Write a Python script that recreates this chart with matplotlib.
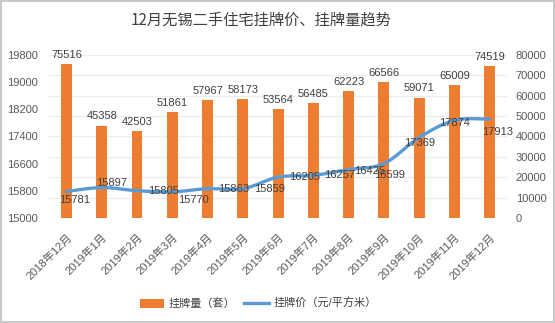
import matplotlib
matplotlib.use("Agg")
import matplotlib.pyplot as plt
from matplotlib.path import Path
from matplotlib.patches import PathPatch, Rectangle
from matplotlib.lines import Line2D
from matplotlib.patches import Patch

plt.rcParams['font.family'] = ['Liberation Sans', 'Noto Sans CJK SC']

months = ['2018年12月', '2019年1月', '2019年2月', '2019年3月', '2019年4月', '2019年5月',
          '2019年6月', '2019年7月', '2019年8月', '2019年9月', '2019年10月', '2019年11月',
          '2019年12月']
listings = [75516, 45358, 42503, 51861, 57967, 58173, 53564, 56485, 62223, 66566,
            59071, 65009, 74519]
prices = [15781, 15897, 15805, 15770, 15863, 15859, 16205, 16257, 16425, 16599,
          17369, 17874, 17913]

# label offsets for the price labels (points), as placed in the original
price_lbl_dx = [6, 7, 19, 15, 19, 19, 19, 19, 15, 4, 0, 0, 6]
price_lbl_dy = [-6, 3, 0, -6, 0, 0, 0, 0, -1, -8, -4, -2, -9]

orange = '#ED7D31'
blue = '#5B9BD5'
txt = '#404040'

fig = plt.figure(figsize=(5.55, 3.23), dpi=100)
fig.patches.append(Rectangle((0.001, 0.002), 0.997, 0.995, transform=fig.transFigure,
                             fill=False, edgecolor='#bfbfbf', linewidth=1.2))

ax = fig.add_axes([0.088, 0.325, 0.826, 0.505])
x = list(range(len(months)))
ax.bar(x, listings, width=0.31, color=orange, zorder=2)
ax.set_ylim(0, 80000)
ax.set_yticks(range(0, 80001, 10000))
ax.set_xlim(-0.5, len(months) - 0.5)
ax.grid(axis='y', color='#ececec', linewidth=0.8)
ax.set_axisbelow(True)
for xi, v in zip(x, listings):
    ax.annotate(str(v), (xi, v), xytext=(0, 3), textcoords='offset points',
                ha='center', va='bottom', fontsize=8, color=txt)

ax2 = ax.twinx()
ax2.set_ylim(15000, 19800)
ax2.set_yticks(range(15000, 19801, 800))
# bars scale on the right, price scale on the left
ax.yaxis.tick_right()
ax2.yaxis.tick_left()

# smoothed line, like Excel's smoothed series
verts = [(x[0], prices[0])]
codes = [Path.MOVETO]
n = len(prices)
for i in range(n - 1):
    p0 = (x[max(i - 1, 0)], prices[max(i - 1, 0)])
    p1 = (x[i], prices[i])
    p2 = (x[i + 1], prices[i + 1])
    p3 = (x[min(i + 2, n - 1)], prices[min(i + 2, n - 1)])
    c1 = (p1[0] + (p2[0] - p0[0]) / 6, p1[1] + (p2[1] - p0[1]) / 6)
    c2 = (p2[0] - (p3[0] - p1[0]) / 6, p2[1] - (p3[1] - p1[1]) / 6)
    verts += [c1, c2, p2]
    codes += [Path.CURVE4] * 3
ax2.add_patch(PathPatch(Path(verts, codes), facecolor='none', edgecolor=blue,
                        linewidth=2.4, capstyle='round', zorder=3))
for xi, v, dx, dy in zip(x, prices, price_lbl_dx, price_lbl_dy):
    ax2.annotate(str(v), (xi, v), xytext=(dx, dy), textcoords='offset points',
                 ha='center', va='center', fontsize=8, color=txt, zorder=4)

for a in (ax, ax2):
    for s in a.spines.values():
        s.set_visible(False)
    a.tick_params(axis='both', length=0, labelsize=8, labelcolor='#595959')
ax.tick_params(axis='y', pad=6)
ax2.tick_params(axis='y', pad=8)

ax.set_xticks(x)
ax.set_xticklabels(months, rotation=45, ha='right', va='top', rotation_mode='anchor',
                   fontsize=8)
ax.tick_params(axis='x', pad=10)

fig.text(0.47, 0.937, '12月无锡二手住宅挂牌价、挂牌量趋势', ha='center', va='center',
         fontsize=11, color=txt, family=['Noto Sans CJK SC'])

handles = [Patch(facecolor=orange), Line2D([], [], color=blue, linewidth=2.4)]
fig.legend(handles, ['挂牌量（套）', '挂牌价（元/平方米）'], loc='center',
           bbox_to_anchor=(0.465, 0.06), ncol=2, frameon=False, fontsize=8,
           handlelength=2.2, handleheight=0.8, columnspacing=0.8, handletextpad=0.4,
           labelcolor=txt)

fig.savefig('out.png', dpi=100)
